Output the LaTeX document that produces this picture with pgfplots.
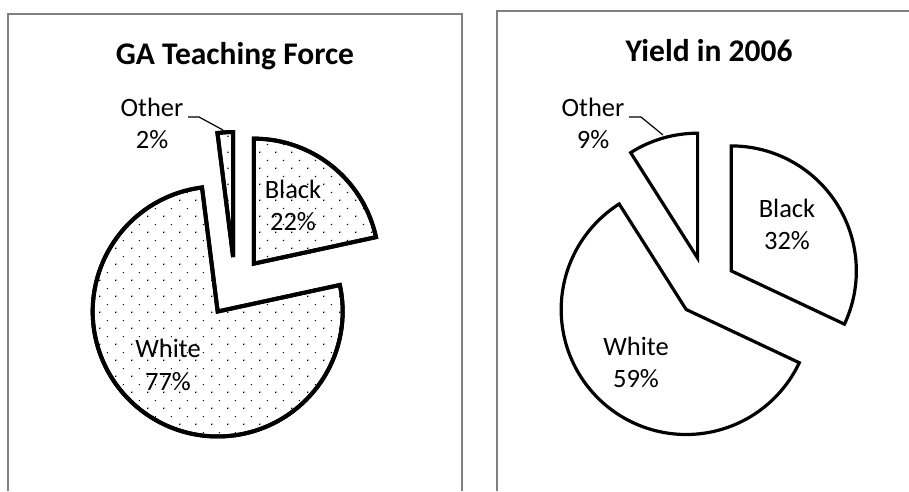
\documentclass[border=0pt]{standalone}
\usepackage{fontspec}
\setmainfont{Carlito}
\usepackage{pgfplots}
\pgfplotsset{compat=1.18}
\usetikzlibrary{patterns.meta}

\tikzdeclarepattern{
  name=xdots,
  type=uncolored,
  bounding box={(0pt,0pt) and (16pt,16pt)},
  tile size={(16pt,16pt)},
  code={\fill (3.4pt,3.4pt) rectangle (4.7pt,4.7pt); \fill (11.4pt,11.4pt) rectangle (12.7pt,12.7pt);}
}

% #1 cx, #2 cy, #3 start (%), #4 value (%), #5 explode, #6 radius, #7 style
\newcommand{\pieslice}[7]{%
  \addplot[#7, domain=#3*3.6:(#3+#4)*3.6, samples=150, variable=\t]
    ({#1+#5*sin((#3+#4/2)*3.6)+#6*sin(\t)},{#2+#5*cos((#3+#4/2)*3.6)+#6*cos(\t)})
    -- (axis cs:{#1+#5*sin((#3+#4/2)*3.6)},{#2+#5*cos((#3+#4/2)*3.6)}) -- cycle;%
}

\begin{document}
\begin{tikzpicture}
\begin{axis}[
  x=1pt, y=1pt,
  xmin=0, xmax=909, ymin=0, ymax=491,
  hide axis, clip=false,
  at={(0,0)}, anchor=south west,
]
% frames
\draw[color=black!50, line width=2pt] (axis cs:8,0) -- (axis cs:8,477) -- (axis cs:462,477) -- (axis cs:462,0);
\draw[color=black!50, line width=2pt] (axis cs:497,0) -- (axis cs:497,480) -- (axis cs:912,480);

% ---- GA Teaching Force: Black 21.6, White 76.4, Other 2.0
\pieslice{235}{204}{0}{21.6}{30}{125}{draw=black, line width=4pt, line join=miter, fill=white, postaction={pattern={xdots}, pattern color=black}}
\pieslice{235}{204}{21.6}{76.4}{30}{125}{draw=black, line width=4pt, line join=miter, fill=white, postaction={pattern={xdots}, pattern color=black}}
\pieslice{235}{204}{98.0}{2.0}{30}{125}{draw=black, line width=4pt, line join=miter, fill=white, postaction={pattern={xdots}, pattern color=black}}

% ---- Yield in 2006: Black 32, White 59, Other 9
\pieslice{706}{204}{0}{32}{30}{125}{draw=black, line width=3.2pt, line join=miter, fill=white}
\pieslice{706}{204}{32}{59}{30}{125}{draw=black, line width=3.2pt, line join=miter, fill=white}
\pieslice{706}{204}{91}{9}{30}{125}{draw=black, line width=3.2pt, line join=miter, fill=white}

% leader lines
\addplot[black, line width=1.2pt] coordinates {(188,374) (199,374) (223,361)};
\addplot[black, line width=1.2pt] coordinates {(629,374) (641,374) (663,356)};

% titles
\node[anchor=base, font=\fontsize{31.5}{36}\selectfont\bfseries] at (axis cs:235,426) {GA Teaching Force};
\node[anchor=base, font=\fontsize{31.5}{36}\selectfont\bfseries] at (axis cs:709,429) {Yield in 2006};

% labels left
\node[anchor=base, font=\fontsize{26.5}{31}\selectfont] at (axis cs:152,374) {Other};
\node[anchor=base, font=\fontsize{26.5}{31}\selectfont] at (axis cs:152,342) {2\%};
\node[anchor=base, font=\fontsize{26.5}{31}\selectfont] at (axis cs:293,293) {Black};
\node[anchor=base, font=\fontsize{26.5}{31}\selectfont] at (axis cs:293,261) {22\%};
\node[anchor=base, font=\fontsize{26.5}{31}\selectfont] at (axis cs:168,134) {White};
\node[anchor=base, font=\fontsize{26.5}{31}\selectfont] at (axis cs:168,101) {77\%};
% labels right
\node[anchor=base, font=\fontsize{26.5}{31}\selectfont] at (axis cs:593,374) {Other};
\node[anchor=base, font=\fontsize{26.5}{31}\selectfont] at (axis cs:593,342) {9\%};
\node[anchor=base, font=\fontsize{26.5}{31}\selectfont] at (axis cs:787,274) {Black};
\node[anchor=base, font=\fontsize{26.5}{31}\selectfont] at (axis cs:787,242) {32\%};
\node[anchor=base, font=\fontsize{26.5}{31}\selectfont] at (axis cs:636,136) {White};
\node[anchor=base, font=\fontsize{26.5}{31}\selectfont] at (axis cs:636,104) {59\%};
\end{axis}
\pgfresetboundingbox
\useasboundingbox (0,0) rectangle (909pt,491pt);
\end{tikzpicture}
\end{document}
